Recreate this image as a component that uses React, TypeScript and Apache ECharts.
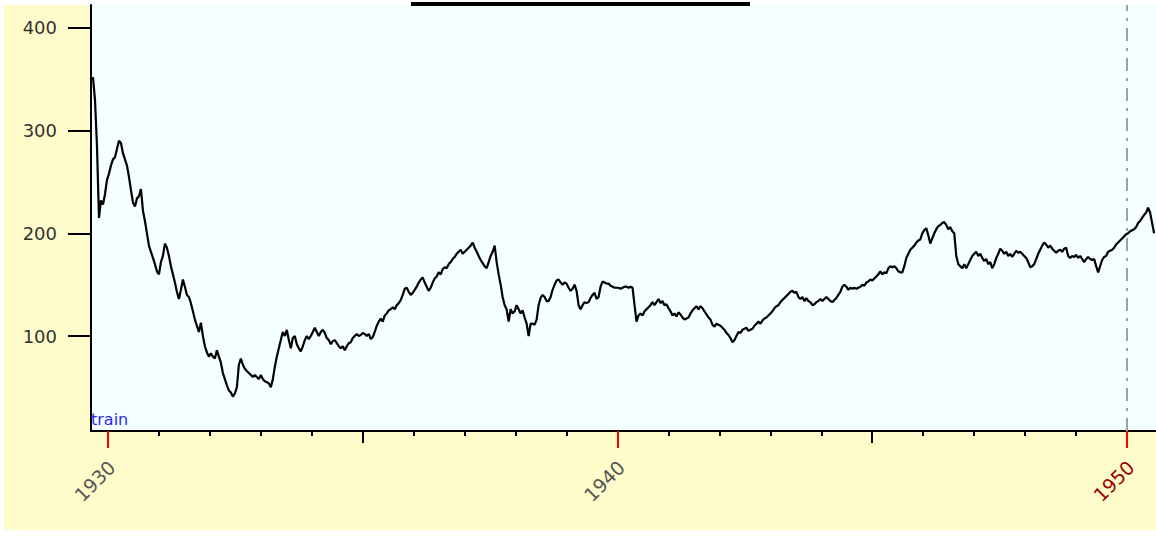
import React, { useEffect, useRef } from "react";
import * as echarts from "echarts";

// Index closes sampled roughly every two weeks, split by period.
const closes1929to1933 = [
  352, 330, 285, 215, 232, 228, 238, 252, 258, 266, 272, 274, 282, 290, 288, 278, 272, 266, 255, 242,
  230, 226, 234, 236, 243, 222, 212, 200, 188, 182, 176, 170, 163, 160, 172, 178, 190, 186, 178, 168,
  160, 152, 143, 136, 145, 155, 148, 140, 138, 132, 124, 116, 110, 104, 113, 100, 90, 84, 80, 83,
  80, 78, 86, 80, 74, 64, 58, 52, 47, 45, 41, 44, 50, 72, 78, 72, 68, 66, 64, 62,
  60, 62, 60, 58, 62, 58, 56, 55, 54, 50, 58, 70, 80, 88, 96, 104, 100, 106, 96, 88,
];
const closes1933to1937 = [
  98, 100, 92, 88, 85, 90, 96, 100, 97, 100, 104, 108, 104, 100, 104, 106, 103, 98, 96, 92,
  95, 96, 93, 90, 88, 90, 86, 90, 93, 94, 98, 100, 102, 100, 101, 103, 102, 100, 102, 97,
  99, 104, 110, 114, 117, 114, 120, 122, 125, 126, 128, 126, 130, 132, 135, 140, 146, 147, 143, 140,
  142, 145, 148, 152, 155, 157, 152, 148, 144, 147, 152, 156, 158, 162, 160, 165, 167, 166, 170, 172,
  175, 177, 180, 182, 184, 180, 182, 184, 186, 188, 191, 186, 182, 178, 174, 171, 168, 166, 172, 178,
  182, 188,
];
const closes1937to1940 = [
  172, 160, 150, 138, 130, 126, 114, 126, 122, 124, 130, 126, 122, 125, 118, 112, 100, 112, 112, 111,
  116, 130, 137, 140, 138, 134, 134, 138, 145, 150, 154, 155, 152, 150, 152, 151, 147, 144, 146, 150,
  144, 130, 126, 130, 133, 132, 133, 137, 140, 142, 136, 138, 148, 153, 152, 151, 151, 149, 148, 147,
  147, 147, 146, 147, 148, 148, 147, 148, 147,
];
const closes1940to1946 = [
  130, 114, 120, 122, 120, 124, 126, 128, 130, 133, 130, 133, 136, 132, 134, 130, 131, 127, 124, 120,
  122, 119, 123, 121, 118, 116, 117, 118, 122, 125, 127, 129, 126, 129, 127, 124, 121, 118, 116, 111,
  109, 112, 111, 110, 108, 106, 103, 101, 98, 94, 96, 100, 104, 103, 106, 107, 108, 105, 106, 107,
  110, 112, 114, 112, 115, 117, 118, 120, 122, 124, 127, 129, 130, 133, 135, 137, 139, 141, 143, 144,
  142, 143, 138, 136, 138, 134, 137, 134, 133, 130, 131, 133, 134, 136, 134, 136, 138, 136, 134, 133,
  135, 137, 140, 143, 148, 150, 148, 145, 147, 146, 147, 146, 147, 148, 150, 149, 152, 153, 155, 154,
  156, 158, 160, 163, 160, 162, 161, 166, 168, 167, 168, 166, 163, 162, 162, 168, 176, 180, 184, 186,
  188, 191, 193, 194, 200, 203, 205, 198, 190, 195, 200, 204, 207, 208, 210, 211, 208, 204, 206, 202,
  200,
];
const closes1946to1950 = [
  178, 170, 168, 166, 170, 166, 170, 174, 178, 180, 182, 178, 180, 176, 173, 175, 170, 172, 166, 170,
  176, 180, 185, 183, 180, 182, 178, 180, 177, 180, 183, 181, 182, 180, 178, 176, 172, 167, 168, 170,
  175, 180, 184, 188, 191, 189, 186, 188, 185, 183, 181, 183, 184, 182, 185, 186, 178, 176, 178, 177,
  179, 176, 178, 175, 172, 175, 177, 175, 174, 175, 168, 162, 168, 174, 177, 178, 182, 183, 184, 186,
  189, 191, 193, 195, 197, 199, 200, 202, 203, 204, 206, 210, 212, 215, 218, 220, 225, 220, 210, 200,
];

// Sampling of the closes in decimal years.
const firstSampleYear = 1929.706;
const sampleStepYears = 0.03922;

// Axis extents and ticks.
const xMin = 1929.667;
const xMax = 1950.569;
const yMin = 7.5;
const yMax = 422.3;
const yTickValues = [100, 200, 300, 400];
const decadeYears = [1930, 1940, 1950];
const halfDecadeYears = [1935, 1945];
const plainYears = [
  1931, 1932, 1933, 1934, 1936, 1937, 1938, 1939,
  1941, 1942, 1943, 1944, 1946, 1947, 1948, 1949,
];
const markedYear = 1950;
const seriesLabel = "train";

const FONT = '"DejaVu Sans", Verdana, sans-serif';

export default function App() {
  const ref = useRef<HTMLDivElement>(null);

  useEffect(() => {
    if (!ref.current) return;
    const chart = echarts.init(ref.current, null, { renderer: "svg" });

    const closes = [
      ...closes1929to1933,
      ...closes1933to1937,
      ...closes1937to1940,
      ...closes1940to1946,
      ...closes1946to1950,
    ];
    const points = closes.map((v, i) => [firstSampleYear + i * sampleStepYears, v]);

    const baseX = {
      type: "value" as const,
      min: xMin,
      max: xMax,
      position: "bottom" as const,
      gridIndex: 0,
      splitLine: { show: false },
      axisLine: { show: false },
      axisTick: { show: false },
      axisLabel: { show: false },
    };

    chart.setOption({
      animation: false,
      backgroundColor: "#ffffff",
      graphic: [
        {
          type: "rect",
          z: -100,
          silent: true,
          shape: { x: 4, y: 5, width: 1152, height: 525 },
          style: { fill: "#fffccc" },
        },
        {
          type: "rect",
          z: 100,
          silent: true,
          shape: { x: 411, y: 2, width: 339, height: 4 },
          style: { fill: "#000000" },
        },
        {
          type: "text",
          z: 100,
          silent: true,
          x: 91,
          y: 427,
          style: {
            text: seriesLabel,
            fill: "#2a2af0",
            font: `16px ${FONT}`,
            verticalAlign: "bottom",
          },
        },
      ],
      grid: {
        left: 91,
        top: 5,
        right: 0,
        bottom: 109,
        show: true,
        backgroundColor: "#f5ffff",
        borderWidth: 0,
        containLabel: false,
        outerBoundsMode: "none",
      },
      xAxis: [
        {
          ...baseX,
          axisLine: { show: true, onZero: false, lineStyle: { color: "#000", width: 2 } },
          axisTick: {
            show: true,
            customValues: plainYears,
            length: 5,
            lineStyle: { color: "#000", width: 2 },
          },
        },
        {
          ...baseX,
          axisTick: {
            show: true,
            customValues: halfDecadeYears,
            length: 12,
            lineStyle: { color: "#000", width: 2 },
          },
        },
        {
          ...baseX,
          axisTick: {
            show: true,
            customValues: decadeYears,
            length: 17,
            lineStyle: { color: "#ff0000", width: 2 },
          },
          axisLabel: {
            show: true,
            customValues: decadeYears,
            rotate: 45,
            margin: 29,
            padding: [11, 0, 0, 0],
            formatter: (v: number) => (v === markedYear ? `{hi|${v}}` : `{lo|${v}}`),
            rich: {
              lo: { color: "#555555", fontSize: 19, fontFamily: FONT },
              hi: { color: "#990000", fontSize: 19, fontFamily: FONT },
            },
          },
        },
      ],
      yAxis: {
        type: "value",
        min: yMin,
        max: yMax,
        position: "left",
        splitLine: { show: false },
        axisLine: { show: true, onZero: false, lineStyle: { color: "#000", width: 2 } },
        axisTick: {
          show: true,
          customValues: yTickValues,
          length: 23,
          lineStyle: { color: "#000", width: 2 },
        },
        axisLabel: {
          show: true,
          customValues: yTickValues,
          margin: 34,
          color: "#333333",
          fontSize: 18,
          fontFamily: FONT,
        },
      },
      series: [
        {
          type: "line",
          xAxisIndex: 0,
          yAxisIndex: 0,
          data: points,
          showSymbol: false,
          clip: true,
          lineStyle: { color: "#000000", width: 2.2 },
          markLine: {
            silent: true,
            symbol: ["none", "none"],
            label: { show: false },
            lineStyle: { color: "#a0a0a0", width: 2, type: [13, 7, 3, 7] },
            data: [{ xAxis: markedYear }],
          },
        },
      ],
    });

    return () => chart.dispose();
  }, []);

  return (
    <div
      ref={ref}
      style={{ position: "absolute", left: 0, top: 0, width: 1156, height: 540, background: "#fff" }}
    />
  );
}
